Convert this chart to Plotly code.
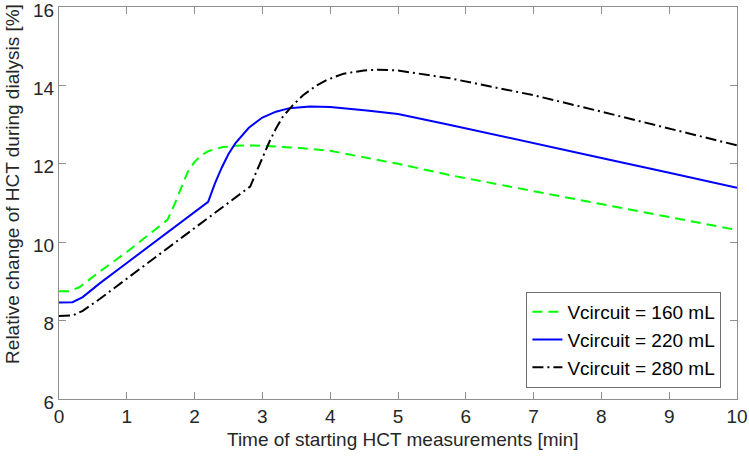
import plotly.graph_objects as go

# Data
x_160 = [0, 0.15, 0.3, 0.6, 1.0, 1.3, 1.6, 1.7, 1.8, 1.9, 2.0, 2.1, 2.2, 2.4, 2.6, 2.8, 3.0,
         3.5, 4.0, 4.5, 5.0, 5.77, 6.5, 7.0, 8.0, 9.0, 10.0]
y_160 = [8.75, 8.75, 8.85, 9.25, 9.75, 10.15, 10.57, 10.95, 11.4, 11.8, 12.05, 12.22, 12.32,
         12.42, 12.46, 12.47, 12.46, 12.41, 12.33, 12.17, 12.0, 11.71, 11.47, 11.3, 10.96, 10.63, 10.31]

x_220 = [0, 0.2, 0.35, 0.6, 1.0, 1.5, 2.2, 2.3, 2.4, 2.5, 2.6, 2.8, 3.0, 3.2, 3.4, 3.7, 4.0,
         4.54, 5.0, 5.77, 6.5, 7.0, 8.0, 9.0, 10.0]
y_220 = [8.46, 8.47, 8.6, 8.95, 9.47, 10.12, 11.03, 11.5, 11.9, 12.25, 12.52, 12.92, 13.18,
         13.33, 13.42, 13.46, 13.45, 13.36, 13.27, 12.99, 12.72, 12.53, 12.15, 11.77, 11.39]

x_280 = [0, 0.2, 0.35, 0.6, 1.0, 1.5, 2.0, 2.5, 2.82, 2.9, 3.0, 3.1, 3.2, 3.3, 3.43, 3.6, 3.8,
         3.95, 4.2, 4.5, 4.7, 5.0, 5.77, 6.0, 7.0, 8.0, 9.0, 10.0]
y_280 = [8.12, 8.13, 8.25, 8.55, 9.07, 9.72, 10.36, 11.0, 11.42, 11.75, 12.15, 12.55, 12.9,
         13.2, 13.46, 13.75, 14.0, 14.14, 14.3, 14.38, 14.4, 14.38, 14.18, 14.1, 13.75, 13.33, 12.9, 12.47]

series_names = ["Vcircuit = 160 mL", "Vcircuit = 220 mL", "Vcircuit = 280 mL"]
x_ticks = list(range(0, 11))
y_ticks = [6, 8, 10, 12, 14, 16]

FONT = "Arial, Liberation Sans, sans-serif"
TXT = "#262626"
AX = "#8f8f8f"

fig = go.Figure()
fig.add_trace(go.Scatter(x=x_160, y=y_160, mode="lines", name=series_names[0],
                         line=dict(color="#00ff00", width=2, dash="10px,6px")))
fig.add_trace(go.Scatter(x=x_220, y=y_220, mode="lines", name=series_names[1],
                         line=dict(color="#0000ff", width=2)))
fig.add_trace(go.Scatter(x=x_280, y=y_280, mode="lines", name=series_names[2],
                         line=dict(color="#000000", width=2, dash="11px,4px,2px,4px")))

axis_common = dict(showgrid=False, zeroline=False, showline=True, linecolor=AX, linewidth=1,
                   mirror="ticks", ticks="inside", ticklen=7, tickcolor=AX, tickwidth=1,
                   automargin=False, ticklabeloverflow="allow",
                   tickfont=dict(family=FONT, size=19, color=TXT))

fig.update_xaxes(range=[0, 10], tickvals=x_ticks, **axis_common)
fig.update_yaxes(range=[6, 16], tickvals=y_ticks, ticklabelshift=3, **axis_common)

fig.update_layout(
    width=749, height=457,
    margin=dict(l=59, r=12, t=7, b=58),
    paper_bgcolor="white", plot_bgcolor="white",
    font=dict(family=FONT, color=TXT),
    showlegend=True,
    legend=dict(x=0.977, y=0.1505, xanchor="right", yanchor="middle",
                bgcolor="white", bordercolor="#6e6e6e", borderwidth=1,
                font=dict(family=FONT, size=19, color="#000000"),
                tracegroupgap=0),
    annotations=[
        dict(text="Time of starting HCT measurements [min]", xref="paper", yref="paper",
             x=0.507, y=-0.103, xanchor="center", yanchor="middle", showarrow=False,
             font=dict(family=FONT, size=19, color=TXT)),
        dict(text="Relative change of HCT during dialysis [%]", xref="paper", yref="paper",
             x=-0.0686, y=0.55, xanchor="center", yanchor="middle", showarrow=False, textangle=-90,
             font=dict(family=FONT, size=19, color=TXT)),
    ],
)

fig.write_html("out.html", config={"displayModeBar": False},
               post_script="document.body.style.margin='0';")
